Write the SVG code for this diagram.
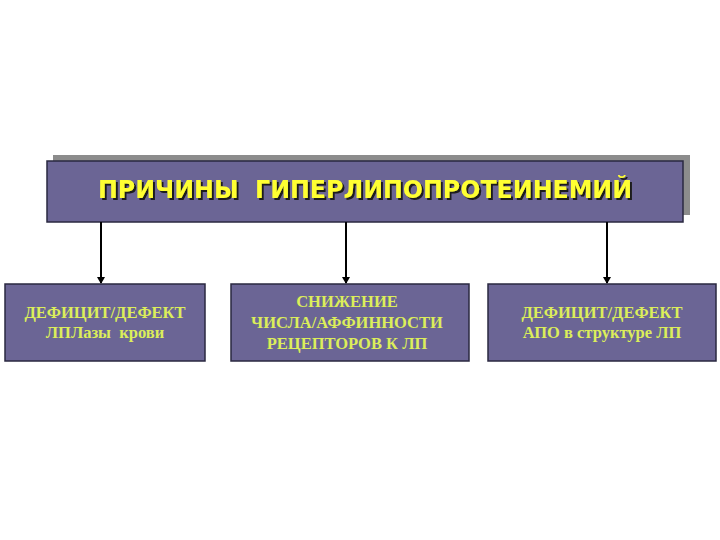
<svg xmlns="http://www.w3.org/2000/svg" width="720" height="540" viewBox="0 0 720 540">
<style>
.box{fill:#6b6595;stroke:#2a2840;stroke-width:1.5}
.title{font-family:"DejaVu Sans","Liberation Sans",sans-serif;font-weight:bold;font-size:24px;fill:#ffff33;text-anchor:middle;filter:url(#sh)}
.lbl{font-family:"Liberation Serif",serif;font-weight:bold;font-size:16.5px;fill:#dcee5a;text-anchor:middle}
.conn{stroke:#000;stroke-width:2;fill:none}
</style>
<defs>
<filter id="sh" x="-5%" y="-30%" width="110%" height="160%">
<feDropShadow dx="2" dy="2" stdDeviation="0" flood-color="#1a1a1a" flood-opacity="1"/>
</filter>
<marker id="ah" markerWidth="8" markerHeight="8" refX="6" refY="4" orient="auto" markerUnits="userSpaceOnUse">
<path d="M0,0 L7,4 L0,8 Z" fill="#000"/>
</marker>
</defs>
<rect width="720" height="540" fill="#fff"/>
<g id="title">
<rect x="53" y="155" width="637" height="60" fill="#8c8c8c"/>
<rect class="box" x="47" y="161" width="636" height="61"/>
<text class="title" x="365" y="198" textLength="534" lengthAdjust="spacingAndGlyphs" xml:space="preserve">ПРИЧИНЫ  ГИПЕРЛИПОПРОТЕИНЕМИЙ</text>
</g>
<g id="connectors">
<line class="conn" x1="101" y1="222" x2="101" y2="283" marker-end="url(#ah)"/>
<line class="conn" x1="346" y1="222" x2="346" y2="283" marker-end="url(#ah)"/>
<line class="conn" x1="607" y1="222" x2="607" y2="283" marker-end="url(#ah)"/>
</g>
<g id="node1">
<rect class="box" x="5" y="284" width="200" height="77"/>
<text class="lbl" x="105" y="318">ДЕФИЦИТ/ДЕФЕКТ</text>
<text class="lbl" x="105" y="338" xml:space="preserve">ЛПЛазы  крови</text>
</g>
<g id="node2">
<rect class="box" x="231" y="284" width="238" height="77"/>
<text class="lbl" x="347" y="307">СНИЖЕНИЕ</text>
<text class="lbl" x="347" y="328">ЧИСЛА/АФФИННОСТИ</text>
<text class="lbl" x="347" y="349">РЕЦЕПТОРОВ К ЛП</text>
</g>
<g id="node3">
<rect class="box" x="488" y="284" width="228" height="77"/>
<text class="lbl" x="602" y="318">ДЕФИЦИТ/ДЕФЕКТ</text>
<text class="lbl" x="602" y="338">АПО в структуре ЛП</text>
</g>
</svg>
